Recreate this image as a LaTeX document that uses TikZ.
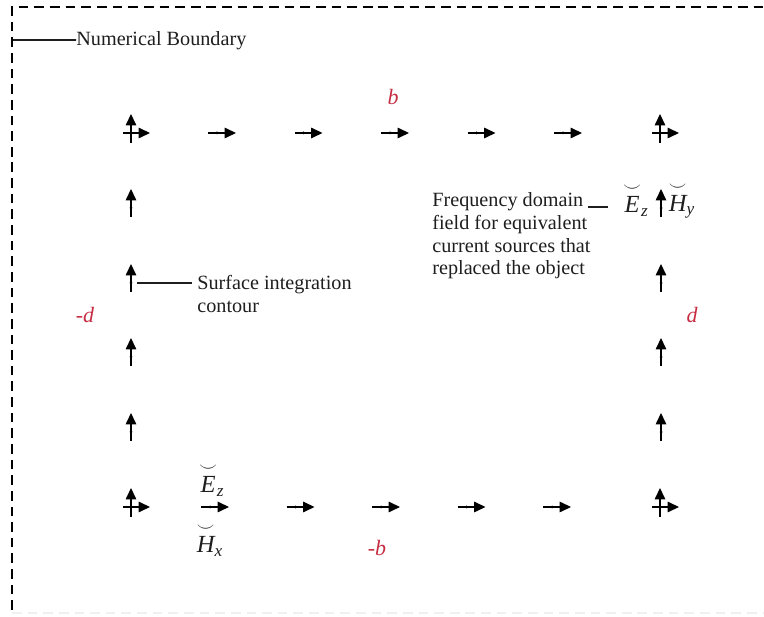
\documentclass[tikz,border=0pt]{standalone}
\usepackage{amsmath,amssymb}
\usepackage{fontspec}
\setmainfont{Liberation Serif}
\usepackage{tikz}
\usetikzlibrary{arrows.meta,positioning}
\definecolor{ink}{HTML}{1E1E1E}
\definecolor{limred}{HTML}{C62D42}
\newcommand{\fieldsym}[2]{$\overset{\smile}{\textit{#1}}_{\textit{#2}}$}
\tikzset{
  fieldarrow/.style={-{Triangle[length=6.5pt,width=6pt]},draw=black,line width=.7pt},
  hfield/.pic={
    \draw[fieldarrow] (-9,0) -- (19,0);
    \fill (0,0) circle (1.5);
  },
  vfield/.pic={
    \draw[fieldarrow] (0,9) -- (0,-19);
    \fill (0,0) circle (1.5);
  },
  crossfield/.pic={
    \draw[fieldarrow] (-8,0) -- (19,0);
    \draw[fieldarrow] (0,10) -- (0,-19);
    \fill (0,0) circle (1.5);
  },
  boundary/.style={draw=black,line width=1.1pt,dash pattern=on 5.5pt off 3.4pt},
  leader/.style={draw=ink,line width=.6pt},
  note/.style={font=\fontsize{11.5}{13}\selectfont,text=ink,align=left,inner sep=0pt},
  limit/.style={font=\fontsize{12.5}{14}\selectfont\itshape,text=limred,inner sep=0pt},
  field/.style={font=\fontsize{14}{16}\selectfont,text=ink,inner sep=0pt}
}

\begin{document}
\begin{tikzpicture}[x=0.02cm,y=-0.02cm]
\useasboundingbox (0,0) rectangle (764,617);

% numerical boundary
\draw[boundary] (12,610) -- (12,7) -- (764,7);
\draw[boundary,draw=black!6,line width=.6pt] (12,613) -- (764,613);
\coordinate (nbstart) at (13,40);
\node[note,anchor=west] (nb) at (76,41) {Numerical Boundary};
\draw[leader] (nbstart) -- (nbstart -| nb.west) -- ++(-4pt,0);

% surface integration contour
\foreach \x [count=\i] in {217,303.5,390,476.5,563}
  \pic (top\i) at (\x,133) {hfield};
\foreach \x [count=\i] in {210,295.5,381,466.5,552}
  \pic (bot\i) at (\x,507) {hfield};
\foreach \y [count=\i] in {208,283,357,432}{
  \pic (lft\i) at (131,\y) {vfield};
  \pic (rgt\i) at (661,\y) {vfield};
}
\pic (c1) at (131,133) {crossfield};
\pic (c2) at (660,133) {crossfield};
\pic (c3) at (131,507) {crossfield};
\pic (c4) at (660,507) {crossfield};

% limits
\node[limit] (bt) at (393,97) {b};
\node[limit] (bb) at (377,548) {-b};
\node[limit] (dl) at (85,315) {-d};
\node[limit] (dr) at (692,315) {d};

% labels
\coordinate (surfpt) at (137,283);
\coordinate (surfend) at (192,283);
\node[note,anchor=north west] (surf) at (197,275) {Surface integration\\contour};
\draw[leader] (surfpt) -- (surfend);

\node[note,anchor=north west] (freq) at (432,192) {Frequency domain\\field for equivalent\\current sources that\\replaced the object};
\coordinate (freqstart) at (588,207);
\coordinate (freqend) at (608,207);
\draw[leader] (freqstart) -- (freqend);
\node[field] (ezr) at (636,200) {\fieldsym{E}{z}};
\node[field] (hyr) at (682,200) {\fieldsym{H}{y}};

\node[field] (ezb) at (212,480) {\fieldsym{E}{z}};
\node[field] (hxb) at (210,540) {\fieldsym{H}{x}};
\end{tikzpicture}
\end{document}
